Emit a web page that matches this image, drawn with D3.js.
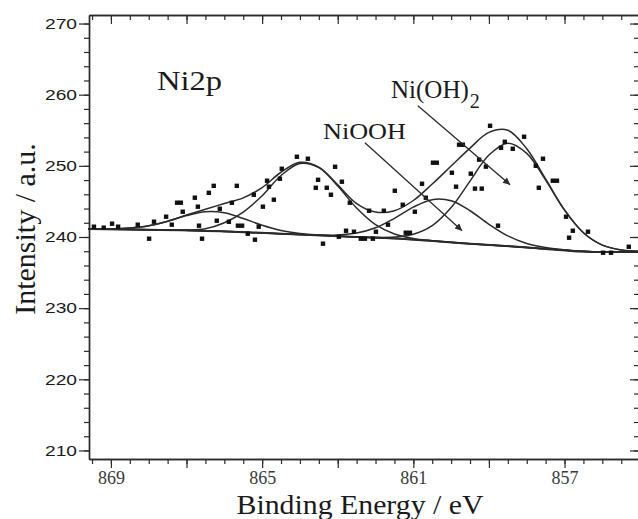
<!DOCTYPE html>
<html>
<head>
<meta charset="utf-8">
<script src="https://cdnjs.cloudflare.com/ajax/libs/d3/7.8.5/d3.min.js"></script>
<style>
  body { margin: 0; background: #fff; }
  svg { display: block; }
</style>
</head>
<body>
<div id="container"></div>
<script>
/* CONSTANTS AND GLOBALS */
const width = 638,
  height = 519,
  margin = { top: 15, bottom: 60, left: 89, right: -1 }; /* right frame sits just off the picture */

/* DATA: [binding energy (eV), intensity (a.u.)] */
const measured = [
  [869.45, 241.45], [869.19, 241.31], [868.97, 241.87], [868.81, 241.45], [868.29, 241.73],
  [867.99, 239.76], [867.86, 242.15], [867.54, 242.85], [867.39, 241.73], [867.25, 244.82],
  [867.15, 244.82], [867.10, 243.55], [866.78, 245.52], [866.70, 244.26], [866.67, 241.59],
  [866.59, 239.76], [866.41, 246.21], [866.28, 247.19], [866.20, 242.29], [866.12, 243.97],
  [865.88, 242.14], [865.80, 244.81], [865.67, 247.19], [865.64, 241.59], [865.53, 241.59],
  [865.38, 240.46], [865.19, 239.62], [865.22, 245.94], [865.09, 241.45], [864.98, 244.26],
  [864.87, 247.91], [864.82, 247.07], [864.69, 245.24], [864.53, 248.19], [864.48, 249.59],
  [864.08, 251.28], [863.79, 251.00], [863.58, 246.92], [863.52, 248.04], [863.39, 239.06],
  [863.29, 246.92], [863.18, 245.94], [863.07, 249.87], [862.97, 240.04], [862.89, 247.77],
  [862.78, 240.88], [862.68, 244.82], [862.57, 240.74], [862.39, 239.76], [862.28, 239.76],
  [862.17, 243.69], [862.07, 239.76], [861.99, 240.74], [861.78, 243.69], [861.67, 241.73],
  [861.49, 246.50], [861.28, 244.53], [861.20, 240.60], [861.09, 240.60], [860.96, 243.55],
  [860.77, 247.48], [860.67, 245.52], [860.48, 250.44], [860.38, 250.44], [859.98, 249.03],
  [859.87, 247.07], [859.79, 252.97], [859.69, 252.97], [859.48, 248.90], [859.37, 246.80],
  [859.26, 250.87], [859.19, 246.80], [859.08, 249.89], [858.97, 255.63], [858.76, 241.59],
  [858.68, 252.54], [858.58, 253.38], [858.37, 252.40], [858.07, 254.09], [857.76, 250.01],
  [857.68, 246.92], [857.57, 251.00], [857.31, 247.91], [857.20, 247.91], [856.96, 242.85],
  [856.88, 239.90], [856.78, 240.88], [856.38, 240.74], [855.98, 237.79], [855.77, 237.79],
  [855.30, 238.63]
];

const background = [
  [869.6, 241.12], [868.0, 241.03], [866.1, 240.81], [864.5, 240.46], [862.8, 240.08],
  [861.35, 239.76], [859.5, 239.06], [857.9, 238.50], [856.2, 237.90], [855.0, 237.90]
];

// small satellite component ~866.3 eV
const peakSat = [
  [869.6, 241.12], [869.0, 241.15], [868.5, 241.27], [868.0, 241.59], [867.5, 242.21],
  [867.0, 243.01], [866.5, 243.55], [866.0, 243.41], [865.5, 242.61], [865.0, 241.65],
  [864.5, 240.92], [864.0, 240.50], [863.5, 240.28], [863.0, 240.12], [862.0, 239.90],
  [861.35, 239.76], [859.5, 239.06], [857.9, 238.50], [856.2, 237.90], [855.0, 237.90]
];

// component ~863.9 eV
const peakMain = [
  [869.6, 241.12], [868.0, 241.03], [867.0, 240.98], [866.5, 241.16], [866.0, 242.00],
  [865.5, 243.50], [865.0, 245.79], [864.5, 248.64], [864.0, 250.34], [863.5, 249.74],
  [863.0, 247.16], [862.5, 244.07], [862.0, 241.73], [861.5, 240.43], [861.0, 239.80],
  [860.5, 239.48], [860.0, 239.25], [859.5, 239.06], [857.9, 238.50], [856.2, 237.90],
  [855.0, 237.90]
];

// NiOOH component ~860.2 eV
const peakNiOOH = [
  [869.6, 241.12], [868.0, 241.03], [866.1, 240.81], [864.5, 240.46], [863.5, 240.26],
  [863.0, 240.29], [862.5, 240.55], [862.0, 241.29], [861.5, 242.63], [861.0, 244.20],
  [860.5, 245.25], [860.0, 245.09], [859.5, 243.69], [859.0, 241.79], [858.5, 240.15],
  [858.0, 239.09], [857.5, 238.53], [857.0, 238.22], [856.5, 238.00], [856.0, 237.90],
  [855.0, 237.90]
];

// Ni(OH)2 component ~858.5 eV
const peakNiOH2 = [
  [869.6, 241.12], [868.0, 241.03], [866.1, 240.81], [864.5, 240.46], [862.8, 240.08],
  [862.0, 239.95], [861.5, 240.00], [861.0, 240.39], [860.5, 241.60], [860.0, 244.13],
  [859.5, 247.86], [859.0, 251.52], [858.5, 253.19], [858.0, 251.76], [857.5, 247.99],
  [857.0, 243.77], [856.5, 240.59], [856.0, 238.85], [855.5, 238.18], [855.0, 237.98]
];

// fitted envelope
const envelope = [
  [869.6, 241.13], [869.0, 241.15], [868.5, 241.27], [868.0, 241.59], [867.5, 242.22],
  [867.0, 243.08], [866.5, 243.90], [866.0, 244.70], [865.5, 245.50], [865.0, 246.95],
  [864.5, 249.10], [864.0, 250.50], [863.5, 249.82], [863.0, 247.33], [862.5, 244.70],
  [862.0, 243.50], [861.5, 243.70], [861.0, 245.13], [860.5, 247.45], [860.0, 249.97],
  [859.5, 252.49], [859.0, 254.70], [858.5, 255.00], [858.0, 252.40], [857.5, 248.16],
  [857.0, 243.81], [856.5, 240.59], [856.0, 238.85], [855.5, 238.18], [855.0, 237.98]
];

const xLabels = [869, 865, 861, 857];
const yLabels = [210, 220, 230, 240, 250, 260, 270];

/* SCALES */
const x = d3.scaleLinear()
  .domain([869.58, 855.03]) /* binding energy runs right to left */
  .range([margin.left, width - margin.right]);

const y = d3.scaleLinear()
  .domain([208.8, 271.2])
  .range([height - margin.bottom, margin.top]);

const svg = d3.select("#container")
  .append("svg")
  .attr("width", width)
  .attr("height", height);

const ink = "#2b2b2b";
const serif = "'Liberation Serif', 'Times New Roman', serif";

/* AXES */
const xMinor = d3.range(869.5, 855, -0.5);
const xMid = d3.range(869, 855, -2);
const yMinor = d3.range(210, 271, 2);

function styleAxis(g) {
  g.select(".domain").attr("stroke", ink).attr("stroke-width", 1.4);
  g.selectAll(".tick line").attr("stroke", ink).attr("stroke-width", 1.2);
}

// bottom
svg.append("g")
  .attr("transform", `translate(0, ${y.range()[0]})`)
  .call(d3.axisBottom(x).tickValues(xMinor).tickSize(5).tickSizeOuter(0).tickFormat(""))
  .call(styleAxis);
svg.append("g")
  .attr("transform", `translate(0, ${y.range()[0]})`)
  .call(d3.axisBottom(x).tickValues(xMid).tickSize(9).tickSizeOuter(0).tickPadding(3)
    .tickFormat(d => xLabels.includes(d) ? d : ""))
  .call(styleAxis)
  .call(g => g.selectAll("text")
    .style("font-family", serif)
    .style("font-size", "18px")
    .attr("fill", "#3a3a3a"));

// top (ticks inward)
svg.append("g")
  .attr("transform", `translate(0, ${y.range()[1]})`)
  .call(d3.axisTop(x).tickValues(xMinor).tickSize(-5).tickSizeOuter(0).tickFormat(""))
  .call(styleAxis);
svg.append("g")
  .attr("transform", `translate(0, ${y.range()[1]})`)
  .call(d3.axisTop(x).tickValues(xMid).tickSize(-9).tickSizeOuter(0).tickFormat(""))
  .call(styleAxis);

// left
svg.append("g")
  .attr("transform", `translate(${margin.left}, 0)`)
  .call(d3.axisLeft(y).tickValues(yMinor).tickSize(5).tickSizeOuter(0).tickFormat(""))
  .call(styleAxis);
svg.append("g")
  .attr("transform", `translate(${margin.left}, 0)`)
  .call(d3.axisLeft(y).tickValues(yLabels).tickSize(10).tickSizeOuter(0).tickPadding(2))
  .call(styleAxis)
  .call(g => g.selectAll("text")
    .style("font-family", "'Liberation Sans', Arial, sans-serif")
    .style("font-size", "14.7px")
    .attr("fill", "#1a1a1a")
    .attr("textLength", 32)
    .attr("lengthAdjust", "spacingAndGlyphs"));

// right (ticks inward)
svg.append("g")
  .attr("transform", `translate(${width - margin.right}, 0)`)
  .call(d3.axisRight(y).tickValues(yMinor).tickSize(-5).tickSizeOuter(0).tickFormat(""))
  .call(styleAxis);
svg.append("g")
  .attr("transform", `translate(${width - margin.right}, 0)`)
  .call(d3.axisRight(y).tickValues(yLabels).tickSize(-9).tickSizeOuter(0).tickFormat(""))
  .call(styleAxis);

/* AXIS TITLES */
svg.append("text")
  .attr("x", 360)
  .attr("y", 514)
  .attr("text-anchor", "middle")
  .style("font-family", serif)
  .style("font-size", "28px")
  .attr("fill", "#1a1a1a")
  .attr("textLength", 247)
  .attr("lengthAdjust", "spacingAndGlyphs")
  .text("Binding Energy / eV");

svg.append("text")
  .attr("transform", "translate(35, 229) rotate(-90)")
  .attr("text-anchor", "middle")
  .style("font-family", serif)
  .style("font-size", "30px")
  .attr("fill", "#1a1a1a")
  .text("Intensity / a.u.");

/* CURVES */
const line = d3.line()
  .x(d => x(d[0]))
  .y(d => y(d[1]))
  .curve(d3.curveCatmullRom);

svg.append("path")
  .datum(background)
  .attr("d", line.curve(d3.curveMonotoneX))
  .attr("fill", "none")
  .attr("stroke", ink)
  .attr("stroke-width", 2);

line.curve(d3.curveCatmullRom);

svg.selectAll(".fit")
  .data([peakSat, peakMain, peakNiOOH, peakNiOH2, envelope])
  .join("path")
  .attr("class", "fit")
  .attr("d", line)
  .attr("fill", "none")
  .attr("stroke", ink)
  .attr("stroke-width", 1.5);

/* MEASURED POINTS */
svg.selectAll(".pt")
  .data(measured)
  .join("rect")
  .attr("class", "pt")
  .attr("x", d => x(d[0]) - 2.2)
  .attr("y", d => y(d[1]) - 2.2)
  .attr("width", 4.4)
  .attr("height", 4.4)
  .attr("fill", "#111");

/* ANNOTATIONS */
svg.append("defs").append("marker")
  .attr("id", "head")
  .attr("viewBox", "0 0 10 10")
  .attr("refX", 10).attr("refY", 5)
  .attr("markerWidth", 9).attr("markerHeight", 7)
  .attr("markerUnits", "userSpaceOnUse")
  .attr("orient", "auto")
  .append("path")
  .attr("d", "M0,0L10,5L0,10Z")
  .attr("fill", ink);

const arrows = [
  { from: [860.88, 258.44], to: [858.44, 247.35] }, // Ni(OH)2
  { from: [862.28, 253.25], to: [859.71, 240.89] }  // NiOOH
];

svg.selectAll(".arrow")
  .data(arrows)
  .join("line")
  .attr("class", "arrow")
  .attr("x1", d => x(d.from[0])).attr("y1", d => y(d.from[1]))
  .attr("x2", d => x(d.to[0])).attr("y2", d => y(d.to[1]))
  .attr("stroke", ink)
  .attr("stroke-width", 1.3)
  .attr("marker-end", "url(#head)");

svg.append("text")
  .attr("x", x(867.78)).attr("y", y(260.69))
  .style("font-family", serif).style("font-size", "28px")
  .attr("fill", "#1a1a1a")
  .attr("textLength", 65).attr("lengthAdjust", "spacingAndGlyphs")
  .text("Ni2p");

svg.append("text")
  .attr("x", x(863.39)).attr("y", y(253.81))
  .style("font-family", serif).style("font-size", "24px")
  .attr("fill", "#1a1a1a")
  .attr("textLength", 83).attr("lengthAdjust", "spacingAndGlyphs")
  .text("NiOOH");

const niOH = svg.append("text")
  .attr("x", x(861.59)).attr("y", y(259.56))
  .style("font-family", serif).style("font-size", "25px")
  .attr("fill", "#1a1a1a");
niOH.append("tspan").text("Ni(OH)");
niOH.append("tspan")
  .attr("dy", 10)
  .attr("dx", 1)
  .style("font-size", "20px")
  .text("2");
</script>
</body>
</html>
